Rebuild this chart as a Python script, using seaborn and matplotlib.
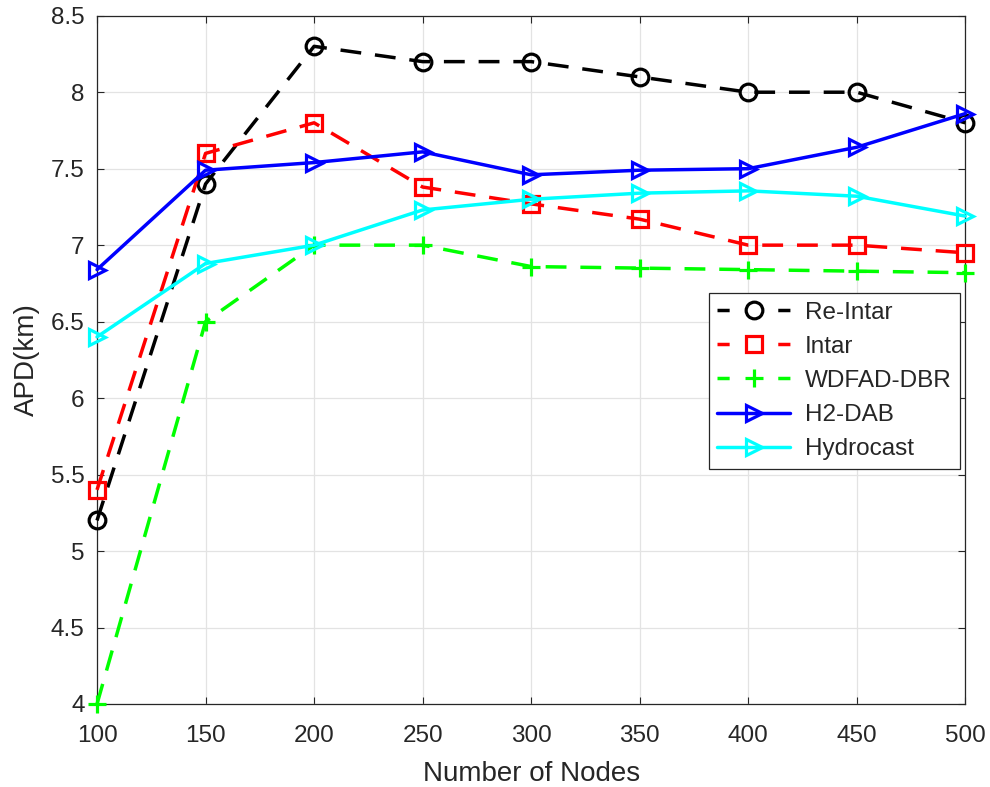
import matplotlib
matplotlib.use("Agg")
import matplotlib.pyplot as plt
import seaborn as sns
import pandas as pd

nodes = [100, 150, 200, 250, 300, 350, 400, 450, 500]
re_intar = [5.2, 7.4, 8.3, 8.2, 8.2, 8.1, 8.0, 8.0, 7.8]
intar = [5.4, 7.6, 7.8, 7.38, 7.27, 7.17, 7.0, 7.0, 6.95]
wdfad_dbr = [4.0, 6.5, 7.0, 7.0, 6.86, 6.85, 6.84, 6.83, 6.82]
h2_dab = [6.84, 7.49, 7.54, 7.61, 7.46, 7.49, 7.50, 7.64, 7.86]
hydrocast = [6.40, 6.88, 7.0, 7.23, 7.30, 7.34, 7.355, 7.32, 7.19]
y_ticks = [4, 4.5, 5, 5.5, 6, 6.5, 7, 7.5, 8, 8.5]
y_tick_labels = ["4", "4.5", "5", "5.5", "6", "6.5", "7", "7.5", "8", "8.5"]

series = [
    ("Re-Intar", re_intar, "black", "o", "--"),
    ("Intar", intar, "red", "s", "--"),
    ("WDFAD-DBR", wdfad_dbr, "#00ff00", "+", "--"),
    ("H2-DAB", h2_dab, "blue", ">", "-"),
    ("Hydrocast", hydrocast, "cyan", ">", "-"),
]

sns.set_theme(style="whitegrid")
plt.rcParams['font.family'] = ['Liberation Sans', 'DejaVu Sans']

fig = plt.figure(figsize=(9.9, 7.87), dpi=100)
ax = fig.add_axes([0.098, 0.1055, 0.877, 0.8745])

for name, vals, color, marker, ls in series:
    df = pd.DataFrame({"Nodes": nodes, "APD": vals})
    sns.lineplot(data=df, x="Nodes", y="APD", ax=ax, color=color, linestyle=ls,
                 linewidth=2.5, marker=marker, markersize=12 if marker != "+" else 13,
                 markerfacecolor="none", markeredgecolor=color, markeredgewidth=2.3,
                 label=name, clip_on=False, zorder=3)
    if ls == "--":
        ax.lines[-1].set_dashes([6, 4])

ax.set_xlim(100, 500)
ax.set_ylim(4, 8.5)
ax.set_xticks(nodes)
ax.set_yticks(y_ticks)
ax.set_yticklabels(y_tick_labels)
ax.set_xlabel("Number of Nodes", fontsize=20, color="#262626", labelpad=10)
ax.set_ylabel("APD(km)", fontsize=20, color="#262626", labelpad=8)
ax.tick_params(axis="both", labelsize=17.5, colors="#262626", direction="in",
               length=5, width=0.8, top=True, right=True, bottom=True, left=True)
ax.tick_params(axis="x", pad=15)
ax.tick_params(axis="y", pad=9)
ax.grid(True, color="#e3e3e3", linewidth=0.9)
for sp in ax.spines.values():
    sp.set_visible(True)
    sp.set_color("#262626")
    sp.set_linewidth(0.9)
ax.set_facecolor("white")

leg = ax.legend(loc="upper right", bbox_to_anchor=(0.994, 0.597), fontsize=17.5,
                handlelength=3.0, frameon=True, fancybox=False, framealpha=1,
                edgecolor="#262626", borderpad=0.35, labelspacing=0.5,
                handletextpad=0.6, borderaxespad=0)
leg.get_frame().set_linewidth(0.9)
for hl, (name, vals, color, marker, ls) in zip(leg.get_lines(), series):
    if ls == "--":
        hl.set_dashes([3.5, 14])

fig.savefig("out.png", dpi=100)
